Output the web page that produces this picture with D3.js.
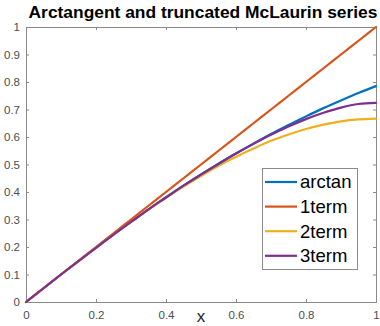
<!DOCTYPE html>
<html>
<head>
<meta charset="utf-8">
<script src="https://cdn.jsdelivr.net/npm/d3@7"></script>
<style>
  body { margin: 0; background: #fff; }
  svg { display: block; font-family: "Liberation Sans", Arial, sans-serif; }
</style>
</head>
<body>
<svg id="chart" width="380" height="326"></svg>
<script>
"use strict";

// x positions of the sampled curves
var xs = [0, 0.05, 0.1, 0.15, 0.2, 0.25, 0.3, 0.35, 0.4, 0.45, 0.5,
          0.55, 0.6, 0.65, 0.7, 0.75, 0.8, 0.85, 0.9, 0.95, 1];

var arctanVals = [0, 0.050, 0.100, 0.149, 0.197, 0.245, 0.291, 0.337, 0.381, 0.423, 0.464,
                  0.503, 0.540, 0.576, 0.611, 0.644, 0.675, 0.705, 0.733, 0.760, 0.785];
var term1Vals  = [0, 0.05, 0.1, 0.15, 0.2, 0.25, 0.3, 0.35, 0.4, 0.45, 0.5,
                  0.55, 0.6, 0.65, 0.7, 0.75, 0.8, 0.85, 0.9, 0.95, 1];
var term2Vals  = [0, 0.050, 0.100, 0.149, 0.197, 0.245, 0.291, 0.336, 0.379, 0.420, 0.458,
                  0.495, 0.528, 0.558, 0.586, 0.609, 0.629, 0.645, 0.657, 0.664, 0.667];
var term3Vals  = [0, 0.050, 0.100, 0.149, 0.197, 0.245, 0.291, 0.337, 0.380, 0.423, 0.463,
                  0.502, 0.540, 0.575, 0.608, 0.638, 0.665, 0.688, 0.707, 0.720, 0.724];

var seriesNames  = ["arctan", "1term", "2term", "3term"];
var seriesColors = ["#0072BD", "#D95319", "#EDB120", "#7E2F8E"];
var seriesValues = [arctanVals, term1Vals, term2Vals, term3Vals];

var xTicks = [0, 0.2, 0.4, 0.6, 0.8, 1];
var yTicks = [0, 0.1, 0.2, 0.3, 0.4, 0.5, 0.6, 0.7, 0.8, 0.9, 1];

var svg = d3.select("#chart"),
    margin = {top: 27, right: 4, bottom: 24, left: 26},
    width = +svg.attr("width") - margin.left - margin.right,
    height = +svg.attr("height") - margin.top - margin.bottom,
    g = svg.append("g").attr("transform", "translate(" + margin.left + "," + margin.top + ")");

var x = d3.scaleLinear().domain([0, 1]).range([0, width]);
var y = d3.scaleLinear().domain([0, 1]).range([height, 0]);

var fmt = function(d) { return d3.format("")(+d.toFixed(1)); };
var axisColor = "#8a8a8a";

// box on: axes on all four sides, ticks pointing in
function styleAxis(sel, showText) {
  sel.select(".domain").remove();
  sel.selectAll(".tick line").attr("stroke", axisColor);
  sel.selectAll(".tick text")
      .attr("fill", "#4d4d4d")
      .style("font-size", "11.5px")
      .style("display", showText ? null : "none");
}

g.append("g")
    .attr("transform", "translate(0," + height + ")")
    .call(d3.axisBottom(x).tickValues(xTicks).tickSize(-3).tickPadding(9).tickFormat(fmt))
    .call(styleAxis, true);
g.append("g")
    .call(d3.axisTop(x).tickValues(xTicks).tickSize(-3).tickFormat(""))
    .call(styleAxis, false);
g.append("g")
    .call(d3.axisLeft(y).tickValues(yTicks).tickSize(-3).tickPadding(6).tickFormat(fmt))
    .call(styleAxis, true);
g.append("g")
    .attr("transform", "translate(" + width + ",0)")
    .call(d3.axisRight(y).tickValues(yTicks).tickSize(-3).tickFormat(""))
    .call(styleAxis, false);

g.append("rect")
    .attr("x", 0.5).attr("y", 0.5)
    .attr("width", width).attr("height", height)
    .attr("fill", "none")
    .attr("stroke", axisColor)
    .attr("stroke-width", 1);

var line = d3.line()
    .x(function(d) { return x(d[0]); })
    .y(function(d) { return y(d[1]); })
    .curve(d3.curveMonotoneX);

seriesValues.forEach(function(vals, i) {
  g.append("path")
      .datum(xs.map(function(xv, j) { return [xv, vals[j]]; }))
      .attr("fill", "none")
      .attr("stroke", seriesColors[i])
      .attr("stroke-width", 2.2)
      .attr("stroke-linejoin", "round")
      .attr("stroke-linecap", "round")
      .attr("d", line);
});

// title
svg.append("text")
    .attr("x", margin.left + width / 2 + 2)
    .attr("y", 18)
    .attr("text-anchor", "middle")
    .style("font-size", "17.4px")
    .style("font-weight", "bold")
    .attr("fill", "#000")
    .text("Arctangent and truncated McLaurin series");

// x label
svg.append("text")
    .attr("x", margin.left + width / 2)
    .attr("y", 322)
    .attr("text-anchor", "middle")
    .style("font-size", "17px")
    .attr("fill", "#262626")
    .text("x");

// legend
var legend = svg.append("g").attr("transform", "translate(262,168)");
legend.append("rect")
    .attr("x", 0.5).attr("y", 0.5)
    .attr("width", 95).attr("height", 101)
    .attr("fill", "#fff")
    .attr("stroke", axisColor);

var rows = legend.selectAll(".row")
    .data(seriesNames)
  .enter().append("g")
    .attr("class", "row")
    .attr("transform", function(d, i) { return "translate(0," + (14 + i * 24.6) + ")"; });

rows.append("line")
    .attr("x1", 3).attr("x2", 35)
    .attr("stroke", function(d, i) { return seriesColors[i]; })
    .attr("stroke-width", 2.2);

rows.append("text")
    .attr("x", 38)
    .attr("dy", "0.35em")
    .style("font-size", "18.5px")
    .attr("fill", "#000")
    .text(function(d) { return d; });
</script>
</body>
</html>
